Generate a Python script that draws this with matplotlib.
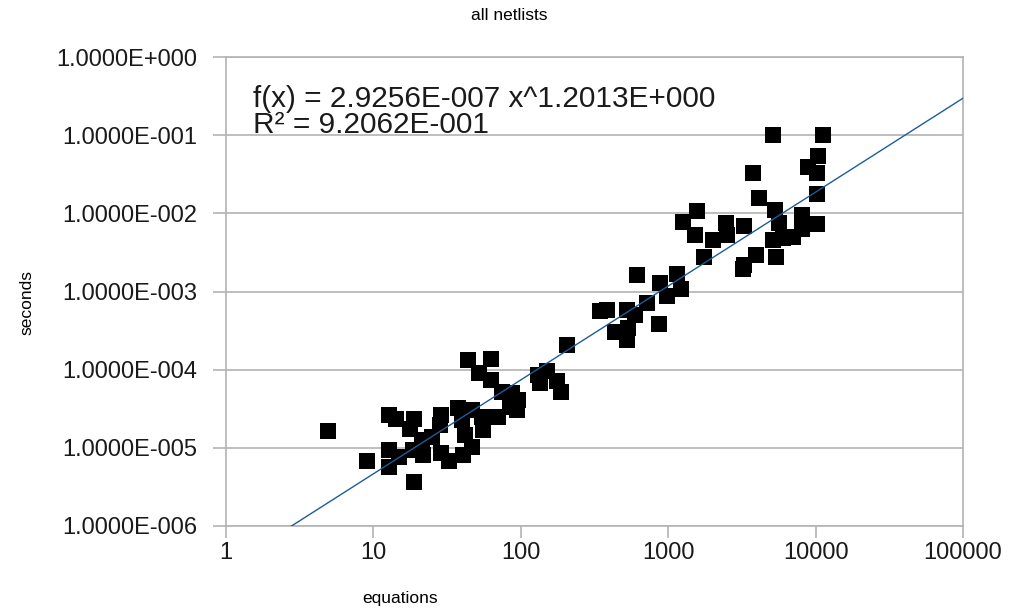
import matplotlib
matplotlib.use("Agg")
import matplotlib.pyplot as plt
import matplotlib.ticker as mticker
import numpy as np

plt.rcParams['font.family'] = ['Liberation Sans', 'DejaVu Sans']

# netlist size (number of equations) vs. solve time in seconds
equations = [
    4.9, 9.0, 12.8, 14.2, 12.8, 14.9, 12.8, 18.9, 18.9, 17.7,
    28.7, 28.3, 25.0, 21.4, 18.6, 21.7, 28.7, 32.6, 37.5, 46.7,
    39.9, 54.6, 70.0, 55.4, 41.8, 46.7, 40.5, 43.8, 62.8, 52.0,
    62.8, 74.5, 87.1, 95.7, 94.2, 84.5, 131, 151, 176, 187,
    135, 206,
    345, 385, 436, 525, 525, 595, 534, 614, 718, 866,
    880, 982, 1148, 1222, 1260, 1567, 1521, 1750, 2014, 2467,
    2506, 3268, 3268, 3216, 3945, 5385, 3760, 4130, 5305, 5650,
    5140, 6010, 7030, 8090, 8090, 10230, 10230, 8880, 10230, 10380,
    5140, 11220,
]
seconds = [
    1.65e-5, 6.8e-6, 2.64e-5, 2.35e-5, 9.4e-6, 7.7e-6, 5.7e-6, 3.7e-6, 2.35e-5, 1.75e-5,
    2.64e-5, 1.97e-5, 1.38e-5, 1.26e-5, 9.4e-6, 8.1e-6, 8.6e-6, 6.8e-6, 3.25e-5, 3.06e-5,
    2.28e-5, 2.49e-5, 2.49e-5, 1.70e-5, 1.47e-5, 1.03e-5, 8.1e-6, 1.33e-4, 1.37e-4, 9.1e-5,
    7.4e-5, 5.2e-5, 5.05e-5, 4.1e-5, 3.06e-5, 3.34e-5, 8.6e-5, 9.5e-5, 7.1e-5, 5.2e-5,
    6.8e-5, 2.08e-4,
    5.65e-4, 5.8e-4, 3.0e-4, 2.4e-4, 5.8e-4, 5.0e-4, 3.4e-4, 1.63e-3, 7.15e-4, 3.85e-4,
    1.29e-3, 8.8e-4, 1.68e-3, 1.08e-3, 7.8e-3, 1.07e-2, 5.3e-3, 2.77e-3, 4.6e-3, 7.5e-3,
    5.3e-3, 6.9e-3, 2.19e-3, 1.95e-3, 2.94e-3, 2.77e-3, 3.3e-2, 1.57e-2, 1.1e-2, 7.5e-3,
    4.6e-3, 4.85e-3, 5.0e-3, 6.3e-3, 9.5e-3, 7.3e-3, 1.77e-2, 3.9e-2, 3.3e-2, 5.4e-2,
    0.1, 0.1,
]

# power-law trend line
fit_a = 2.9256e-7
fit_b = 1.2013
r_squared = 0.92062

x_ticks = [1, 10, 100, 1000, 10000, 100000]
y_ticks = [1e-6, 1e-5, 1e-4, 1e-3, 1e-2, 1e-1, 1e0]


def sci_fmt(v, pos=None):
    # 1.0000E-001 style, three digit exponent
    if v <= 0:
        return ""
    e = int(np.floor(np.log10(v) + 1e-9))
    m = v / 10.0 ** e
    sign = "-" if e < 0 else "+"
    return "%.4fE%s%03d" % (m, sign, abs(e))


fig = plt.figure(figsize=(10.2, 6.09), dpi=100)
ax = fig.add_axes([226 / 1020, 1 - 526 / 609, (963 - 226) / 1020, (526 - 57) / 609])

ax.set_xscale('log')
ax.set_yscale('log')
ax.set_xlim(1, 100000)
ax.set_ylim(1e-6, 1)

ax.scatter(equations, seconds, marker='s', s=118, c='black', linewidths=0, zorder=3)

xs = np.logspace(0, 5, 200)
ax.plot(xs, fit_a * xs ** fit_b, color='#1c5d99', lw=1.0, zorder=4)

ax.xaxis.set_major_locator(mticker.FixedLocator(x_ticks))
ax.yaxis.set_major_locator(mticker.FixedLocator(y_ticks))
ax.xaxis.set_minor_locator(mticker.NullLocator())
ax.yaxis.set_minor_locator(mticker.NullLocator())
ax.xaxis.set_major_formatter(mticker.FuncFormatter(lambda v, p: "%d" % round(v)))
ax.yaxis.set_major_formatter(mticker.FuncFormatter(sci_fmt))

gc = '#b3b3b3'
ax.grid(True, which='major', axis='y', color=gc, lw=1.2)
for s in ax.spines.values():
    s.set_color(gc)
    s.set_linewidth(1.2)
ax.tick_params(axis='both', which='major', width=1.2, color=gc,
               labelsize=17, labelcolor='#1a1a1a')
ax.tick_params(axis='x', length=8.6, pad=3)
ax.tick_params(axis='y', length=9.4, pad=11.5)

fig.text(0.499, 1 - 15 / 609, "all netlists", ha='center', va='center', fontsize=12.5)
fig.text(400 / 1020, 1 - 598 / 609, "equations", ha='center', va='center', fontsize=12.5)
fig.text(27 / 1020, 1 - 303 / 609, "seconds", ha='center', va='center', rotation=90, fontsize=12.5)

eq = "f(x) = %.4fE-%03d x^%.4fE+%03d" % (fit_a * 1e7, 7, fit_b, 0)
r2 = "R\u00b2 = %.4fE-%03d" % (r_squared * 10, 1)
fig.text(253 / 1020, 1 - 112 / 609, eq + "\n" + r2, ha='left', va='center',
         fontsize=21.4, linespacing=0.92, color='#1a1a1a')

fig.savefig("out.png", dpi=100)
